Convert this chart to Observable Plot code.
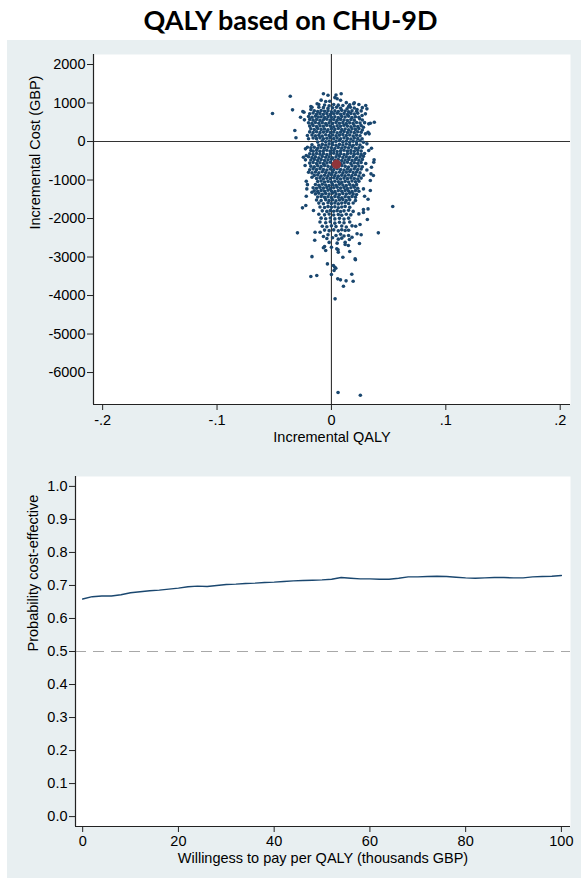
<!DOCTYPE html>
<html>
<head>
<meta charset="utf-8">
<script src="https://cdn.jsdelivr.net/npm/d3@7"></script>
<script src="https://cdn.jsdelivr.net/npm/@observablehq/plot@0.6"></script>
<style>
  html, body { margin: 0; padding: 0; background: #ffffff; }
  #page { width: 581px; height: 878px; position: relative; overflow: hidden; }
  #title { height: 40px; line-height: 40px; text-align: center; font-family: Lato, "Open Sans", sans-serif; font-weight: 700; font-size: 27px; color: #000; }
  #panel { position: absolute; left: 7px; top: 40px; width: 574px; height: 838px; background: #e8eff1; }
  #panel svg { display: block; }
</style>
</head>
<body>
<div id="page">
  <div id="title">QALY based on CHU-9D</div>
  <div id="panel"></div>
</div>
<script>
// ---------- Data ----------
const titleText = "QALY based on CHU-9D";
const qalyTicks = [-0.2, -0.1, 0, 0.1, 0.2];
const qalyTickLabels = ["-.2", "-.1", "0", ".1", ".2"];
const costTicks = [2000, 1000, 0, -1000, -2000, -3000, -4000, -5000, -6000];
const costTickLabels = ["2000", "1000", "0", "-1000", "-2000", "-3000", "-4000", "-5000", "-6000"];
const probTicks = [0, 0.1, 0.2, 0.3, 0.4, 0.5, 0.6, 0.7, 0.8, 0.9, 1.0];
const probTickLabels = ["0.0", "0.1", "0.2", "0.3", "0.4", "0.5", "0.6", "0.7", "0.8", "0.9", "1.0"];
const wtpTicks = [0, 20, 40, 60, 80, 100];
const wtpTickLabels = ["0", "20", "40", "60", "80", "100"];

// Bootstrap replicates: [incremental QALY, incremental cost (GBP)]
const bootstrapDraws = [
  [-0.036,1176],[-0.007,1239],[-0.003,1203],[0.004,1210],[0.0085,1239],[0.005,1109],[0.003,1140],[-0.0015,1047],[-0.005,1039],[-0.009,1075],[0.008,1070],[0.013,1010],[0.020,1005],
  [-0.0125,979],[-0.011,961],[-0.006,950],[-0.002,930],[0.002,960],[0.006,945],[0.010,935],[0.0195,979],[0.016,955],[0.030,935],[0.024,960],
  [-0.018,909],[-0.017,891],[-0.011,891],[-0.007,880],[-0.003,860],[0.001,875],[0.0045,890],[0.008,865],[0.0137,849],[0.015,909],[0.0166,891],[0.020,870],[0.0224,831],[0.031,849],[0.027,880],
  [-0.034,823],[-0.025,779],[-0.018,831],[-0.015,800],[-0.012,780],[-0.009,805],[-0.006,785],[-0.003,800],[0.000,775],[0.003,795],[0.006,780],[0.009,810],[0.012,790],[0.015,770],[0.018,800],[0.022,785],[0.026,795],
  [-0.0515,727],[-0.024,761],[-0.019,720],[-0.016,740],[-0.013,710],[-0.010,730],[-0.007,705],[-0.004,725],[-0.001,700],[0.002,720],[0.005,735],[0.008,710],[0.011,725],[0.014,700],[0.017,730],[0.020,715],[0.023,735],[0.0297,719],[0.0268,675],
  [-0.027,631],[-0.020,650],[-0.017,630],[-0.014,655],[-0.0115,635],[-0.009,645],[-0.006,625],[-0.003,650],[0.000,630],[0.003,645],[0.006,620],[0.009,650],[0.012,635],[0.015,655],[0.018,625],[0.021,645],[0.024,630],
  [-0.0236,563],[-0.019,575],[-0.016,555],[-0.013,570],[-0.010,550],[-0.007,565],[-0.004,580],[-0.001,555],[0.002,570],[0.005,550],[0.008,575],[0.011,560],[0.014,545],[0.017,570],[0.020,555],[0.0247,589],[0.027,560],
  [-0.020,485],[-0.017,470],[-0.014,495],[-0.011,475],[-0.008,490],[-0.005,465],[-0.002,485],[0.001,470],[0.004,495],[0.007,475],[0.010,490],[0.013,465],[0.016,485],[0.019,470],[0.022,495],[0.025,480],[0.0375,501],[0.034,475],[0.0326,459],[0.029,490],
  [-0.019,400],[-0.016,415],[-0.013,390],[-0.010,410],[-0.007,395],[-0.004,420],[-0.001,400],[0.002,385],[0.005,410],[0.008,395],[0.011,420],[0.014,400],[0.017,385],[0.020,405],[0.023,390],[0.026,415],[0.028,372],
  [-0.032,286],[-0.018,330],[-0.015,310],[-0.012,335],[-0.009,315],[-0.006,325],[-0.003,305],[0.000,330],[0.003,315],[0.006,340],[0.009,310],[0.012,325],[0.015,305],[0.018,330],[0.021,315],[0.024,335],[0.027,300],
  [-0.019,250],[-0.016,235],[-0.013,255],[-0.010,230],[-0.007,245],[-0.004,260],[-0.001,235],[0.002,250],[0.005,225],[0.008,245],[0.011,260],[0.014,235],[0.017,250],[0.020,230],[0.023,255],[0.026,240],[0.032,241],
  [-0.021,156],[-0.017,170],[-0.014,150],[-0.011,165],[-0.008,145],[-0.005,175],[-0.002,155],[0.001,170],[0.004,150],[0.007,165],[0.010,180],[0.013,155],[0.016,170],[0.019,145],[0.022,165],[0.025,150],[0.033,199],[0.0297,199],
  [-0.031,96],[-0.020,70],[-0.016,90],[-0.013,75],[-0.010,95],[-0.007,70],[-0.004,85],[-0.001,100],[0.002,75],[0.005,90],[0.008,70],[0.011,95],[0.014,80],[0.017,65],[0.020,90],[0.023,75],[0.0268,70],
  [-0.012,-15],[-0.008,20],[-0.005,-5],[-0.002,15],[0.001,-20],[0.004,5],[0.007,25],[0.010,-10],[0.013,15],[0.016,-15],[0.019,10],[0.022,-5],[0.025,20],[0.028,-20],
  [-0.017,-85],[-0.011,-95],[-0.008,-75],[-0.005,-90],[-0.002,-65],[0.001,-85],[0.004,-100],[0.007,-75],[0.010,-90],[0.013,-65],[0.016,-85],[0.019,-100],[0.022,-70],[0.025,-90],[0.031,-60],
  [-0.021,-148],[-0.018,-165],[-0.015,-150],[-0.012,-175],[-0.009,-155],[-0.006,-170],[-0.003,-145],[0.000,-165],[0.003,-180],[0.006,-155],[0.009,-170],[0.012,-150],[0.015,-165],[0.018,-145],[0.021,-175],[0.024,-160],[0.027,-150],[0.035,-174],
  [-0.0227,-190],[-0.018,-234],[-0.016,-250],[-0.013,-230],[-0.010,-255],[-0.007,-240],[-0.004,-225],[-0.001,-250],[0.002,-235],[0.005,-260],[0.008,-240],[0.011,-225],[0.014,-250],[0.017,-235],[0.020,-255],[0.023,-230],[0.026,-245],[0.0326,-234],
  [-0.022,-364],[-0.019,-320],[-0.016,-335],[-0.013,-310],[-0.010,-330],[-0.007,-315],[-0.004,-340],[-0.001,-320],[0.002,-305],[0.005,-330],[0.008,-315],[0.011,-340],[0.014,-320],[0.017,-305],[0.020,-330],[0.023,-315],[0.026,-335],[0.029,-310],
  [-0.0245,-407],[-0.020,-395],[-0.017,-415],[-0.014,-400],[-0.011,-420],[-0.008,-390],[-0.005,-410],[-0.002,-395],[0.001,-420],[0.004,-400],[0.007,-385],[0.010,-415],[0.013,-395],[0.016,-410],[0.019,-390],[0.022,-420],[0.025,-400],[0.028,-385],
  [-0.0227,-476],[-0.018,-480],[-0.015,-465],[-0.012,-490],[-0.009,-470],[-0.006,-495],[-0.003,-475],[0.000,-460],[0.003,-485],[0.006,-470],[0.009,-495],[0.012,-480],[0.015,-465],[0.018,-490],[0.021,-470],[0.024,-485],[0.027,-465],[0.0373,-476],
  [-0.019,-560],[-0.016,-545],[-0.013,-570],[-0.010,-550],[-0.007,-575],[-0.004,-555],[-0.001,-540],[0.002,-565],[0.005,-550],[0.008,-575],[0.011,-555],[0.014,-540],[0.017,-570],[0.020,-550],[0.023,-565],[0.026,-545],[0.030,-570],[0.037,-537],
  [-0.023,-624],[-0.018,-640],[-0.015,-655],[-0.012,-630],[-0.009,-650],[-0.006,-625],[-0.003,-645],[0.000,-660],[0.003,-635],[0.006,-650],[0.009,-625],[0.012,-645],[0.015,-660],[0.018,-630],[0.021,-650],[0.024,-635],[0.027,-655],[0.035,-667],
  [-0.019,-735],[-0.016,-710],[-0.013,-730],[-0.010,-705],[-0.007,-725],[-0.004,-740],[-0.001,-715],[0.002,-730],[0.005,-705],[0.008,-725],[0.011,-740],[0.014,-715],[0.017,-735],[0.020,-710],[0.023,-730],[0.026,-715],[0.031,-740],
  [-0.020,-797],[-0.017,-815],[-0.014,-790],[-0.011,-810],[-0.008,-785],[-0.005,-805],[-0.002,-820],[0.001,-795],[0.004,-810],[0.007,-790],[0.010,-815],[0.013,-795],[0.016,-780],[0.019,-805],[0.022,-790],[0.025,-815],[0.0346,-840],
  [-0.015,-880],[-0.012,-870],[-0.009,-895],[-0.006,-875],[-0.003,-890],[0.000,-865],[0.003,-885],[0.006,-900],[0.009,-875],[0.012,-890],[0.015,-870],[0.018,-885],[0.021,-865],[0.024,-895],[0.028,-875],[0.0367,-883],
  [-0.017,-927],[-0.013,-960],[-0.010,-945],[-0.007,-970],[-0.004,-950],[-0.001,-965],[0.002,-940],[0.005,-960],[0.008,-975],[0.011,-950],[0.014,-965],[0.017,-945],[0.020,-960],[0.023,-975],[0.026,-950],
  [-0.022,-1030],[-0.012,-1040],[-0.009,-1025],[-0.006,-1050],[-0.003,-1035],[0.000,-1055],[0.003,-1030],[0.006,-1045],[0.009,-1060],[0.012,-1035],[0.015,-1050],[0.018,-1025],[0.021,-1045],[0.024,-1030],[0.034,-1013],
  [-0.021,-1120],[-0.014,-1115],[-0.011,-1135],[-0.008,-1110],[-0.005,-1130],[-0.002,-1145],[0.001,-1120],[0.004,-1135],[0.007,-1110],[0.010,-1130],[0.013,-1145],[0.016,-1115],[0.019,-1135],[0.022,-1120],
  [-0.0215,-1230],[-0.016,-1200],[-0.013,-1215],[-0.010,-1190],[-0.007,-1210],[-0.004,-1195],[-0.001,-1220],[0.002,-1200],[0.005,-1185],[0.008,-1210],[0.011,-1195],[0.014,-1220],[0.017,-1200],[0.020,-1185],[0.023,-1215],[0.028,-1230],[0.034,-1273],
  [-0.015,-1280],[-0.012,-1295],[-0.009,-1270],[-0.006,-1290],[-0.003,-1265],[0.000,-1285],[0.003,-1300],[0.006,-1275],[0.009,-1290],[0.012,-1270],[0.015,-1285],[0.018,-1300],[0.021,-1275],[0.024,-1290],
  [-0.017,-1317],[-0.014,-1360],[-0.011,-1345],[-0.008,-1370],[-0.005,-1350],[-0.002,-1365],[0.001,-1340],[0.004,-1360],[0.007,-1375],[0.010,-1350],[0.013,-1365],[0.016,-1345],[0.019,-1360],[0.022,-1375],
  [-0.022,-1420],[-0.012,-1440],[-0.009,-1425],[-0.006,-1450],[-0.003,-1435],[0.000,-1455],[0.003,-1430],[0.006,-1445],[0.009,-1460],[0.012,-1435],[0.015,-1450],[0.018,-1425],[0.021,-1445],[0.029,-1420],[0.032,-1500],
  [-0.013,-1520],[-0.009,-1535],[-0.005,-1510],[-0.002,-1530],[0.001,-1515],[0.004,-1540],[0.007,-1520],[0.010,-1505],[0.013,-1530],[0.016,-1515],[0.021,-1535],
  [-0.011,-1600],[-0.007,-1615],[-0.003,-1590],[0.000,-1610],[0.003,-1595],[0.006,-1620],[0.009,-1600],[0.012,-1585],[0.015,-1610],[0.019,-1595],
  [-0.0253,-1723],[-0.0224,-1663],[-0.010,-1700],[-0.006,-1715],[-0.003,-1690],[0.000,-1710],[0.003,-1695],[0.006,-1720],[0.009,-1700],[0.012,-1685],[0.016,-1710],[0.0536,-1689],[0.032,-1750],[0.028,-1766],
  [-0.0157,-1793],[-0.008,-1800],[-0.004,-1815],[-0.001,-1790],[0.002,-1810],[0.005,-1795],[0.008,-1820],[0.011,-1800],[0.015,-1785],[0.019,-1815],[0.028,-1844],
  [-0.011,-1890],[-0.006,-1905],[-0.002,-1885],[0.002,-1910],[0.006,-1895],[0.009,-1915],[0.013,-1890],[0.017,-1905],[0.024,-1880],
  [-0.009,-1990],[-0.005,-2005],[-0.001,-1985],[0.003,-2010],[0.007,-1995],[0.011,-2015],[0.015,-1990],[0.0314,-2026],
  [-0.010,-2090],[-0.005,-2110],[-0.001,-2085],[0.003,-2120],[0.007,-2095],[0.011,-2110],[0.016,-2090],[0.025,-2156],[0.0212,-2200],
  [-0.008,-2200],[-0.004,-2215],[0.000,-2190],[0.004,-2210],[0.009,-2195],[0.013,-2220],[0.018,-2190],
  [-0.0099,-2355],[-0.0143,-2355],[-0.006,-2300],[-0.002,-2315],[0.002,-2295],[0.006,-2320],[0.012,-2312],[0.009,-2290],[0.015,-2305],[0.0224,-2397],
  [-0.0297,-2372],[0.041,-2372],[0.026,-2423],[0.018,-2485],[-0.007,-2467],[0.015,-2442],[-0.003,-2420],[0.004,-2440],[0.008,-2410],[0.011,-2455],
  [-0.0146,-2563],[0.0157,-2545],[-0.004,-2520],[0.001,-2500],[0.006,-2535],[0.009,-2510],
  [0.0245,-2649],[0.012,-2615],[0.012,-2675],[-0.002,-2620],[0.005,-2640],
  [-0.006,-2727],[-0.007,-2760],[0.000,-2745],[0.0047,-2788],[0.0058,-2810],[-0.005,-2831],[0.0148,-2701],[0.006,-2875],[0.016,-2857],
  [-0.017,-2990],[0.010,-3004],[0.0207,-3048],[0.021,-3072],
  [-0.0035,-3178],[0.0017,-3221],[0.0038,-3290],[0.0023,-3351],[0.003,-3264],
  [0.000,-3455],[0.0178,-3446],[-0.018,-3507],[-0.0128,-3481],
  [0.0055,-3567],[0.0079,-3593],[0.0128,-3619],[0.019,-3628],[0.0105,-3757],
  [0.0032,-4086],
  [0.0058,-6518],[0.0253,-6588]
];
const meanQaly = [0.0044];
const meanCost = [-590];

// Cost-effectiveness acceptability curve
const wtpThousands = [0,2,4,6,8,10,12,14,16,18,20,22,24,26,28,30,32,34,36,38,40,42,44,46,48,50,52,54,56,58,60,62,64,66,68,70,72,74,76,78,80,82,84,86,88,90,92,94,96,98,100];
const probCostEffective = [0.659,0.666,0.668,0.668,0.672,0.678,0.681,0.684,0.686,0.689,0.692,0.696,0.698,0.697,0.700,0.703,0.704,0.706,0.707,0.709,0.710,0.712,0.714,0.715,0.716,0.717,0.719,0.724,0.722,0.720,0.720,0.719,0.719,0.722,0.726,0.726,0.727,0.728,0.727,0.725,0.723,0.722,0.723,0.724,0.724,0.723,0.723,0.726,0.727,0.728,0.730];
const thresholdProb = [0.5];

// ---------- Styles ----------
const navy = "#1a476f";
const maroon = "#90353b";
const fontFam = "'Liberation Sans', Arial, Helvetica, sans-serif";
const fs = 14.5;
const labelMap = (ticks, labels) => { const m = new Map(ticks.map((t, i) => [t, labels[i]])); return d => m.get(d) ?? ""; };

document.getElementById("title").textContent = titleText;

const qalyDomain = [-0.208, 0.209];
const costDomain = [-6830, 2260];

const scatter = Plot.plot({
  width: 574, height: 412,
  marginTop: 14, marginBottom: 48, marginLeft: 86, marginRight: 11,
  style: { background: "transparent", fontFamily: fontFam, fontSize: fs + "px", color: "#000", overflow: "visible" },
  x: { domain: qalyDomain },
  y: { domain: costDomain },
  marks: [
    Plot.frame({ fill: "white", stroke: "none" }),
    Plot.ruleY([0], { stroke: "#333", strokeWidth: 1.1 }),
    Plot.ruleX([0], { stroke: "#333", strokeWidth: 1.1 }),
    Plot.dot(bootstrapDraws, { x: d => d[0], y: d => d[1], r: 1.8, fill: navy, stroke: "none" }),
    Plot.dot(meanQaly, { x: d => d, y: (d, i) => meanCost[i], r: 4.7, fill: maroon, stroke: "none" }),
    Plot.ruleX([qalyDomain[0]], { stroke: "#222", strokeWidth: 1.2 }),
    Plot.ruleY([costDomain[0]], { stroke: "#222", strokeWidth: 1.2 }),
    Plot.axisX({ ticks: qalyTicks, tickFormat: labelMap(qalyTicks, qalyTickLabels), tickSize: 6, tickPadding: 4, label: null, fontSize: fs, stroke: "#222" }),
    Plot.axisY({ ticks: costTicks, tickFormat: labelMap(costTicks, costTickLabels), tickSize: 6, tickPadding: 2, label: null, fontSize: fs, stroke: "#222" }),
    Plot.text(["Incremental QALY"], { text: d => d, frameAnchor: "bottom", dy: 37, fontSize: fs, fill: "#000" }),
    Plot.text(["Incremental Cost (GBP)"], { text: d => d, frameAnchor: "left", dx: -58, rotate: -90, fontSize: fs, fill: "#000" })
  ]
});

const wtpDomain = [-1.5, 101.9];
const probDomain = [-0.03, 1.03];
const ceac = wtpThousands.map((w, i) => ({ wtp: w, p: probCostEffective[i] }));

const curve = Plot.plot({
  width: 574, height: 426,
  marginTop: 24, marginBottom: 52, marginLeft: 68, marginRight: 11,
  style: { background: "transparent", fontFamily: fontFam, fontSize: fs + "px", color: "#000", overflow: "visible" },
  x: { domain: wtpDomain },
  y: { domain: probDomain },
  marks: [
    Plot.frame({ fill: "white", stroke: "none" }),
    Plot.ruleY(thresholdProb, { stroke: "#a8a8a8", strokeWidth: 1.1, strokeDasharray: "11,7" }),
    Plot.line(ceac, { x: "wtp", y: "p", stroke: navy, strokeWidth: 1.4 }),
    Plot.ruleX([wtpDomain[0]], { stroke: "#222", strokeWidth: 1.2 }),
    Plot.ruleY([probDomain[0]], { stroke: "#222", strokeWidth: 1.2 }),
    Plot.axisX({ ticks: wtpTicks, tickFormat: labelMap(wtpTicks, wtpTickLabels), tickSize: 6, tickPadding: 3, label: null, fontSize: fs, stroke: "#222" }),
    Plot.axisY({ ticks: probTicks, tickFormat: labelMap(probTicks, probTickLabels), tickSize: 6, tickPadding: 2, label: null, fontSize: fs, stroke: "#222" }),
    Plot.text(["Willingess to pay per QALY (thousands GBP)"], { text: d => d, frameAnchor: "bottom", dy: 36, fontSize: fs, fill: "#000" }),
    Plot.text(["Probability cost-effective"], { text: d => d, frameAnchor: "left", dx: -42, rotate: -90, fontSize: fs, fill: "#000" })
  ]
});

const panel = document.getElementById("panel");
panel.appendChild(scatter);
panel.appendChild(curve);
</script>
</body>
</html>
